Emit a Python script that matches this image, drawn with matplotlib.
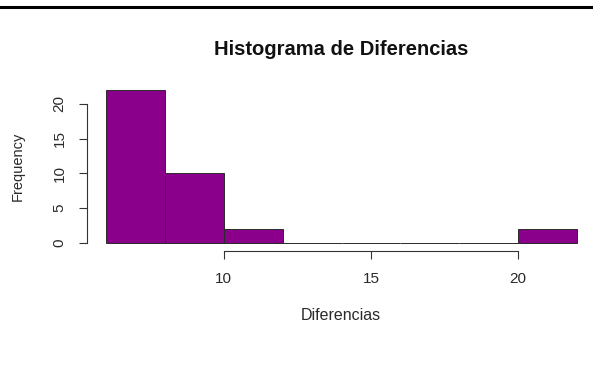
import matplotlib
matplotlib.use("Agg")
from matplotlib import pyplot as plt
from matplotlib.lines import Line2D

# Histogram of differences: bin breaks and counts
breaks = [6, 8, 10, 12, 14, 16, 18, 20, 22]
counts = [22, 10, 2, 0, 0, 0, 0, 2]
x_ticks = [10, 15, 20]
y_ticks = [0, 5, 10, 15, 20]

plt.rcParams['font.family'] = ['Liberation Sans', 'DejaVu Sans']

fig = plt.figure(figsize=(5.93, 3.79), dpi=100)
W, H = 593, 379
x0, x1 = 106, 577
y0, y1 = 243, 90
ax = fig.add_axes([x0 / W, (H - y0) / H, (x1 - x0) / W, (y0 - y1) / H])

_, _, patches = ax.hist(breaks[:-1], bins=breaks, weights=counts,
                        color='#8B008B', edgecolor='#2a2a2a', linewidth=0.7)
for p in patches:
    p.set_clip_on(False)
ax.set_xlim(6, 22)
ax.set_ylim(0, 22)

# R-style detached axes
for side in ['top', 'right']:
    ax.spines[side].set_visible(False)
ax.spines['left'].set_position(('outward', 14.0))
ax.spines['bottom'].set_position(('outward', 5.4))
ax.spines['left'].set_bounds(0, 20)
ax.spines['bottom'].set_bounds(10, 20)
for side in ['left', 'bottom']:
    ax.spines[side].set_color('#333333')
    ax.spines[side].set_linewidth(0.8)

ax.set_xticks(x_ticks)
ax.set_yticks(y_ticks)
ax.tick_params(axis='both', length=5.5, width=0.8, color='#333333',
               labelsize=11, labelcolor='#2a2a2a')
ax.tick_params(axis='x', pad=10)
ax.tick_params(axis='y', pad=9)
for lbl in ax.get_yticklabels():
    lbl.set_rotation(90)
    lbl.set_va('center')

fig.text(341.5 / W, 1 - 55 / H, "Histograma de Diferencias",
         ha='center', va='baseline', fontsize=14.5, fontweight='bold', color='#111111')
fig.text(341 / W, 1 - 315 / H, "Diferencias",
         ha='center', va='center', fontsize=11.5, color='#2a2a2a')
fig.text(18 / W, 1 - 166 / H, "Frequency", rotation=90,
         ha='center', va='center', fontsize=10.5, color='#2a2a2a')

# thick rule across the top
fig.add_artist(Line2D([0, 1], [1 - 7 / H, 1 - 7 / H], color='black', linewidth=2.2))

fig.savefig("out.png", dpi=100)
